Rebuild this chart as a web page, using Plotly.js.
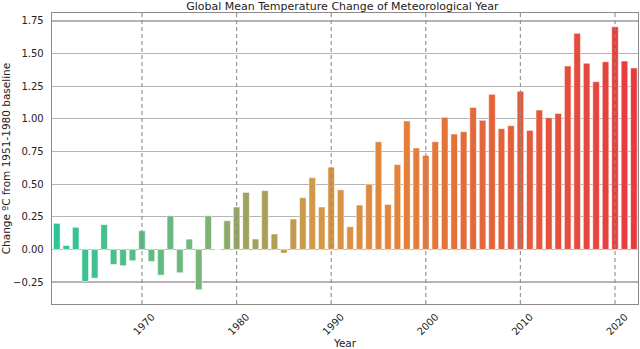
<!DOCTYPE html>
<html>
<head>
<meta charset="utf-8">
<script src="https://cdn.plot.ly/plotly-3.0.1.min.js"></script>
<style>
  html, body {margin: 0; padding: 0; background: #fff;}
  #chart {width: 640px; height: 349px;}
</style>
</head>
<body>
<div id="chart"></div>
<script>
const years = [
  1961, 1962, 1963, 1964, 1965, 1966, 1967, 1968, 1969, 1970,
  1971, 1972, 1973, 1974, 1975, 1976, 1977, 1978, 1979, 1980,
  1981, 1982, 1983, 1984, 1985, 1986, 1987, 1988, 1989, 1990,
  1991, 1992, 1993, 1994, 1995, 1996, 1997, 1998, 1999, 2000,
  2001, 2002, 2003, 2004, 2005, 2006, 2007, 2008, 2009, 2010,
  2011, 2012, 2013, 2014, 2015, 2016, 2017, 2018, 2019, 2020,
  2021, 2022,
]
const change = [
  0.20, 0.03, 0.17, -0.245, -0.22, 0.19, -0.115, -0.125, -0.087, 0.143,
  -0.092, -0.197, 0.258, -0.179, 0.079, -0.309, 0.258, 0.0, 0.22, 0.325,
  0.437, 0.08, 0.45, 0.118, -0.028, 0.233, 0.396, 0.55, 0.325, 0.63,
  0.457, 0.174, 0.34, 0.50, 0.825, 0.345, 0.65, 0.984, 0.777, 0.72,
  0.825, 1.012, 0.884, 0.902, 1.088, 0.989, 1.188, 0.925, 0.948, 1.211,
  0.912, 1.068, 1.009, 1.042, 1.405, 1.655, 1.426, 1.285, 1.438, 1.706,
  1.443, 1.39,
]
const decadeTicks = [1970, 1980, 1990, 2000, 2010, 2020]
const yTicks = [-0.25, 0, 0.25, 0.5, 0.75, 1.0, 1.25, 1.5, 1.75]

// colour ramp teal -> olive -> orange -> red
const stops = [
  [0.0, [46, 196, 152]],
  [0.25, [120, 182, 120]],
  [0.33, [158, 162, 92]],
  [0.45, [210, 152, 72]],
  [0.58, [228, 132, 58]],
  [0.75, [228, 100, 58]],
  [1.0, [230, 58, 62]],
]
const ramp = (t) => {
  for (let i = 1; i < stops.length; i++) {
    if (t <= stops[i][0]) {
      const [t0, c0] = stops[i - 1]
      const [t1, c1] = stops[i]
      const f = (t - t0) / (t1 - t0)
      const c = c0.map((v, k) => Math.round(v + (c1[k] - v) * f))
      return `rgb(${c.join(',')})`
    }
  }
  return `rgb(${stops[stops.length - 1][1].join(',')})`
}
const colors = years.map((_, i) => ramp(i / (years.length - 1)))

const font = 'DejaVu Sans, sans-serif'

const trace = {
  type: 'bar',
  x: years,
  y: change,
  width: 0.7,
  marker: {
    color: colors,
    line: {color: 'rgba(255,255,255,0.55)', width: 1},
  },
  hoverinfo: 'x+y',
}

// dashed decade lines drawn as shapes; the invisible ticks are nudged right
// so the rotated labels sit centred under the lines like matplotlib does
const vlines = decadeTicks.map((d) => ({
  type: 'line',
  xref: 'x',
  yref: 'paper',
  x0: d,
  x1: d,
  y0: 0,
  y1: 1,
  layer: 'above',
  line: {color: 'rgba(140,140,140,0.9)', width: 1.2, dash: '4px,3px'},
}))

const layout = {
  width: 640,
  height: 349,
  margin: {l: 52, r: 2, t: 13, b: 45, pad: 0},
  paper_bgcolor: '#fff',
  plot_bgcolor: '#fff',
  showlegend: false,
  bargap: 0,
  font: {family: font, size: 10, color: '#222'},
  title: {
    text: 'Global Mean Temperature Change of Meteorological Year',
    font: {family: font, size: 11, color: '#222'},
    x: 0.535,
    xanchor: 'center',
    yref: 'container',
    y: 0.981,
    yanchor: 'middle',
  },
  xaxis: {
    range: [1960.49, 2022.43],
    tickvals: decadeTicks.map((d) => d + 1.05),
    ticktext: decadeTicks.map(String),
    tickangle: -45,
    showgrid: false,
    zeroline: false,
    showline: true,
    mirror: true,
    linecolor: '#8a8a8a',
    linewidth: 1.3,
    ticks: 'outside',
    ticklen: 2,
    tickcolor: 'rgba(0,0,0,0)',
    tickfont: {family: font, size: 10, color: '#222'},
    title: {text: 'Year', font: {family: font, size: 10.5, color: '#222'}, standoff: 6},
  },
  yaxis: {
    range: [-0.418, 1.811],
    tickvals: yTicks,
    ticktext: yTicks.map((v) => v.toFixed(2).replace('-', '\u2212')),
    showgrid: true,
    gridcolor: '#b4b4b4',
    gridwidth: 1.2,
    zeroline: false,
    showline: true,
    mirror: true,
    linecolor: '#8a8a8a',
    linewidth: 1.3,
    ticks: 'outside',
    ticklen: 5,
    tickcolor: 'rgba(0,0,0,0)',
    tickfont: {family: font, size: 10, color: '#222'},
    title: {
      text: 'Change \u00baC from 1951-1980 baseline',
      font: {family: font, size: 10.5, color: '#222'},
      standoff: 6,
    },
  },
  shapes: vlines,
}

Plotly.newPlot('chart', [trace], layout, {staticPlot: true})
</script>
</body>
</html>
